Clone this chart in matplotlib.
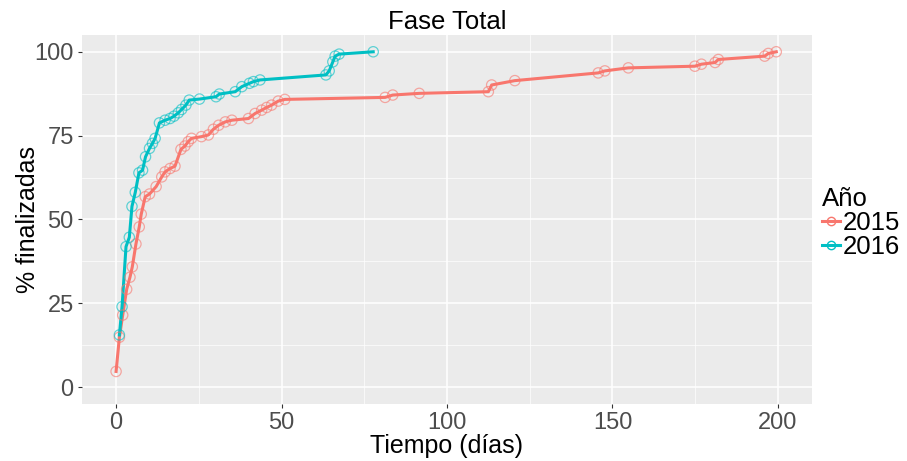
import matplotlib
matplotlib.use("Agg")
import matplotlib.pyplot as plt
from matplotlib.lines import Line2D
import numpy as np

plt.rcParams['font.family'] = ['Liberation Sans', 'DejaVu Sans']

# days vs % finished
dias_2015 = [0, 1, 2, 3.2, 4.2, 4.9, 6, 7, 7.6, 8.8, 10.1, 12.1, 13.8, 14.8, 16.3, 17.8,
             19.6, 20.8, 21.8, 22.8, 25.8, 27.9, 29.4, 31, 33, 35, 40, 42, 44, 45.5, 47,
             49, 51, 81.3, 83.6, 91.6, 112.5, 113.5, 120.5, 145.7, 147.7, 154.8, 174.9,
             176.9, 181, 182, 196, 197.1, 199.5]
pct_2015 = [4.7, 14.9, 21.5, 29.2, 32.8, 35.9, 42.7, 47.8, 51.6, 56.8, 57.6, 59.8, 62.7,
            64.2, 65.2, 65.9, 70.9, 71.9, 73.2, 74.2, 74.7, 75.2, 76.9, 78.1, 79.1, 79.6,
            80.1, 81.6, 82.6, 83.4, 84.1, 85.3, 85.8, 86.4, 87.1, 87.6, 88.1, 90.1, 91.4,
            93.7, 94.3, 95.2, 95.7, 96.3, 96.8, 97.7, 98.7, 99.5, 100]

dias_2016 = [1, 1.8, 3, 4, 4.8, 5.8, 6.9, 8, 8.9, 10.1, 11, 11.8, 13.1, 14.8, 16.3, 17.5,
             18.8, 19.8, 21.1, 22.1, 25.2, 30.2, 31.2, 36, 38, 40.3, 41.5, 43.5, 63.4,
             64.4, 65.5, 66.2, 67.4, 77.7]
pct_2016 = [15.6, 24, 41.9, 44.7, 53.9, 58.1, 63.9, 64.7, 68.7, 71.2, 72.7, 74.2, 78.8,
            79.6, 80.1, 80.8, 81.8, 82.8, 84.1, 85.6, 85.9, 86.6, 87.4, 88.1, 89.6, 90.6,
            91.1, 91.6, 93.1, 94.3, 97, 98.7, 99.3, 100]

col_2015 = '#F8766D'
col_2016 = '#00BFC4'
gris = '#4D4D4D'

fig = plt.figure(figsize=(9.07, 4.61), dpi=100)
ax = fig.add_axes([82 / 907, 1 - 404 / 461, (812 - 82) / 907, (404 - 35) / 461])
ax.set_facecolor('#EBEBEB')
for s in ax.spines.values():
    s.set_visible(False)

ax.set_xlim(-10.3, 210.3)
ax.set_ylim(-5, 105)
ax.set_xticks([0, 50, 100, 150, 200])
ax.set_yticks([0, 25, 50, 75, 100])
ax.set_xticks([25, 75, 125, 175], minor=True)
ax.set_yticks([12.5, 37.5, 62.5, 87.5], minor=True)
ax.grid(True, which='major', color='white', linewidth=1.1)
ax.grid(True, which='minor', color='white', linewidth=0.5)
ax.set_axisbelow(True)
ax.tick_params(which='major', length=3, color='#333333', labelsize=17, labelcolor=gris, pad=3)
ax.tick_params(which='minor', length=0)

for d, p, c in [(dias_2015, pct_2015, col_2015), (dias_2016, pct_2016, col_2016)]:
    ax.plot(d, p, color=c, linewidth=2.2, zorder=3)
    ax.scatter(d, p, s=55, facecolors='none', edgecolors=c, linewidths=0.9, alpha=0.6, zorder=4)

ax.set_xlabel('Tiempo (días)', fontsize=18, labelpad=0)
ax.set_ylabel('% finalizadas', fontsize=18)
ax.yaxis.set_label_coords(-0.058, 0.5)
ax.set_title('Fase Total', fontsize=18.5, pad=4)

handles = [Line2D([0], [0], color=c, linewidth=2.2, marker='o', markersize=6,
                  markerfacecolor='none', markeredgecolor=c) for c in (col_2015, col_2016)]
leg = fig.legend(handles, ['2015', '2016'], title='Año', loc='upper left',
                 bbox_to_anchor=(822 / 907, 1 - 187 / 461), frameon=False, fontsize=18.5,
                 title_fontsize=18.5, handlelength=0.7, handletextpad=0.1, labelspacing=0.0,
                 borderpad=0.0, borderaxespad=0.0)
leg._legend_box.align = 'left'
leg._legend_box.sep = 0

fig.savefig('out.png', dpi=100)
